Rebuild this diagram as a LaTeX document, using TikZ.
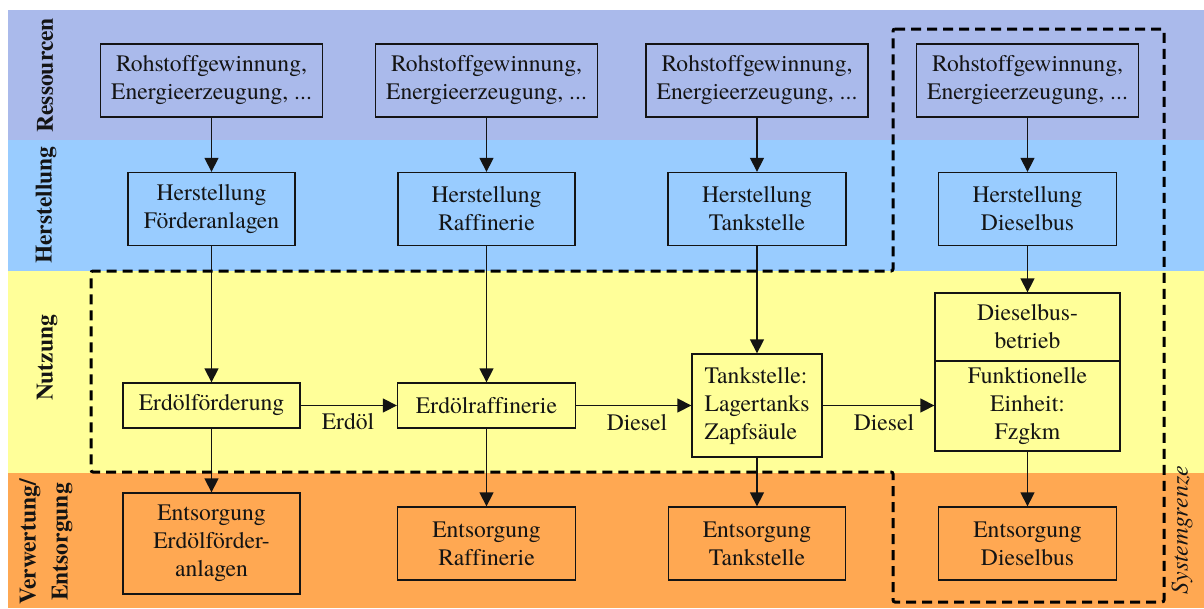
\documentclass[tikz,border=0pt]{standalone}
\usepackage{fontspec}
\IfFontExistsTF{texgyretermes-regular.otf}{%
  \setmainfont{texgyretermes}[
    Extension=.otf,
    UprightFont=*-regular,
    BoldFont=*-bold,
    ItalicFont=*-italic,
    BoldItalicFont=*-bolditalic,
    Ligatures=NoCommon]%
}{%
  \setmainfont{Liberation Serif}[Ligatures=NoCommon]%
}
\usetikzlibrary{arrows.meta}

\definecolor{resband}{RGB}{170,186,235}
\definecolor{herband}{RGB}{153,204,255}
\definecolor{nutband}{RGB}{255,255,153}
\definecolor{entband}{RGB}{255,168,82}
\definecolor{ink}{RGB}{20,20,20}

\tikzset{
  procbox/.style={draw=ink, line width=1.3pt, text=ink, align=center, inner sep=0pt,
    font=\fontsize{23.6}{28}\selectfont},
  flow/.style={draw=ink, line width=1.3pt, -{Triangle[length=14pt,width=14pt]}},
  flowlabel/.style={text=ink, font=\fontsize{23.6}{28}\selectfont},
  bandlabel/.style={text=ink, rotate=90, align=center, font=\fontsize{23.5}{32}\selectfont\bfseries},
  boundary/.style={draw=black, line width=3pt, dash pattern=on 10pt off 6pt, rounded corners=2pt}
}

\begin{document}
\begin{tikzpicture}[x=1pt,y=-1pt]
  \useasboundingbox (0,0) rectangle (1204,608);

  % life-cycle phase bands
  \fill[resband] (8,10)  rectangle (1204,140);
  \fill[herband] (8,140) rectangle (1204,271);
  \fill[nutband] (8,271) rectangle (1204,473);
  \fill[entband] (8,473) rectangle (1204,608);

  % phase names
  \node[bandlabel] (lres) at (45,75)  {Ressourcen};
  \node[bandlabel] (lher) at (46,205) {Herstellung};
  \node[bandlabel] (lnut) at (47,358) {Nutzung};
  \node[bandlabel] (lent) at (46,542) {Verwertung/\\Entsorgung};

  % resources
  \node[procbox, minimum width=222pt, minimum height=73pt] (r1) at (211.5,80.5) {Rohstoffgewinnung,\\Energieerzeugung, ...};
  \node[procbox, minimum width=222pt, minimum height=73pt] (r2) at (486.5,80.5) {Rohstoffgewinnung,\\Energieerzeugung, ...};
  \node[procbox, minimum width=222pt, minimum height=73pt] (r3) at (757,80.5)   {Rohstoffgewinnung,\\Energieerzeugung, ...};
  \node[procbox, minimum width=222pt, minimum height=73pt] (r4) at (1027.5,80.5){Rohstoffgewinnung,\\Energieerzeugung, ...};

  % production
  \node[procbox, minimum width=167pt, minimum height=73pt] (h1) at (211.5,209) {Herstellung\\Förderanlagen};
  \node[procbox, minimum width=177pt, minimum height=73pt] (h2) at (486.5,209) {Herstellung\\Raffinerie};
  \node[procbox, minimum width=178pt, minimum height=73pt] (h3) at (757,209)   {Herstellung\\Tankstelle};
  \node[procbox, minimum width=178pt, minimum height=73pt] (h4) at (1027.5,209){Herstellung\\Dieselbus};

  % use phase
  \node[procbox, minimum width=177pt, minimum height=45pt] (n1) at (211.5,405.5) {Erdölförderung};
  \node[procbox, minimum width=178pt, minimum height=45pt] (n2) at (486.5,405.5) {Erdölraffinerie};
  \node[procbox, align=left, minimum width=130pt, minimum height=103pt] (n3) at (757,405.5) {Tankstelle:\\Lagertanks\\Zapfsäule};
  \node[procbox, minimum width=185pt, minimum height=68pt] (n4a) at (1027.5,327) {Dieselbus-\\betrieb};
  \node[procbox, minimum width=185pt, minimum height=90pt] (n4b) at (1027.5,406) {Funktionelle\\Einheit:\\Fzgkm};

  % disposal
  \node[procbox, minimum width=177pt, minimum height=101pt] (e1) at (211.5,543.5) {Entsorgung\\Erdölförder-\\anlagen};
  \node[procbox, minimum width=178pt, minimum height=73pt]  (e2) at (486.5,543.5) {Entsorgung\\Raffinerie};
  \node[procbox, minimum width=177pt, minimum height=73pt]  (e3) at (757,543.5)   {Entsorgung\\Tankstelle};
  \node[procbox, minimum width=178pt, minimum height=73pt]  (e4) at (1027.5,543.5){Entsorgung\\Dieselbus};

  % vertical flows
  \foreach \a/\b in {r1/h1, r2/h2, r3/h3, r4/h4, h1/n1, h2/n2, h3/n3, h4/n4a, n1/e1, n2/e2, n3/e3, n4b/e4}
    \draw[flow] (\a.south) -- (\a.south |- \b.north);

  % material flows along the chain
  \draw[flow] (n1.east) -- (n2.west);
  \draw[flow] (n2.east) -- (n3.west);
  \draw[flow] (n3.east) -- (n3.east -| n4b.west);
  \node[flowlabel] (lerd) at (348,422) {Erdöl};
  \node[flowlabel] (ldi1) at (637,423) {Diesel};
  \node[flowlabel] (ldi2) at (884,423) {Diesel};

  % system boundary
  \draw[boundary] (893,29) -- (1164,29) -- (1164,602) -- (893,602) -- (893,472)
    -- (91,472) -- (91,271) -- (893,271) -- cycle;
  \node[text=ink, rotate=90, font=\fontsize{24}{28}\selectfont\itshape] (sysg) at (1182,530) {Systemgrenze};
\end{tikzpicture}
\end{document}
